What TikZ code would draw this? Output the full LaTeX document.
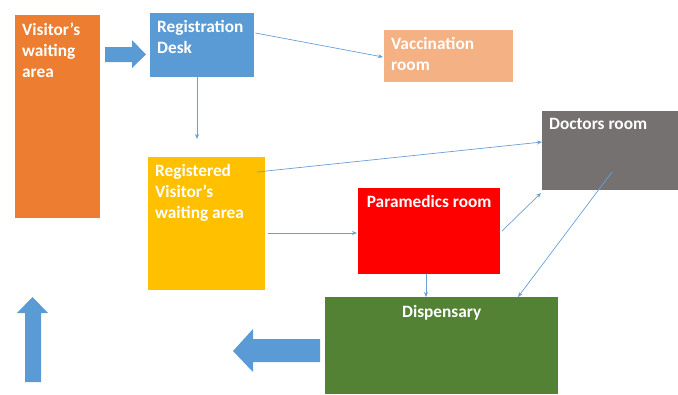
\documentclass[tikz,border=0pt]{standalone}
\usepackage{fontspec}
\setmainfont{Carlito}
\usetikzlibrary{calc,arrows.meta}
\definecolor{waitorange}{HTML}{ED7D31}
\definecolor{deskblue}{HTML}{5B9BD5}
\definecolor{vacpeach}{HTML}{F4B183}
\definecolor{docgrey}{HTML}{767171}
\definecolor{regyellow}{HTML}{FFC000}
\definecolor{medred}{HTML}{FF0000}
\definecolor{disgreen}{HTML}{548235}
\definecolor{linkblue}{HTML}{6A9FD6}

\begin{document}
\begin{tikzpicture}[x=1pt, y=-1pt,
    room/.style = {inner sep=0pt, anchor=north west},
    roomtext/.style = {text=white, font=\bfseries\fontsize{17.3}{21}\selectfont,
                       align=left, inner xsep=7pt, inner ysep=7.5pt},
    link/.style = {draw=linkblue, line width=0.7pt, -{Stealth[length=5pt,width=4pt]}},
    bigarrow/.style = {fill=deskblue}]
        \useasboundingbox (0,0) rectangle (678,394);
        % rooms
        \node[room, fill=waitorange, minimum width=85, minimum height=203,
              label={[roomtext, anchor=north west]north west:{Visitor’s\\waiting\\area}}]
              (visitor) at (15,15) {};
        \node[room, fill=deskblue, minimum width=104, minimum height=64,
              label={[roomtext, anchor=north west]north west:{Registration\\Desk}}]
              (desk) at (150,13) {};
        \node[room, fill=vacpeach, minimum width=129, minimum height=52,
              label={[roomtext, anchor=north west]north west:{Vaccination\\room}}]
              (vaccine) at (384,30) {};
        \node[room, fill=docgrey, minimum width=136, minimum height=79,
              label={[roomtext, anchor=north west]north west:{Doctors room}}]
              (doctors) at (542,111) {};
        \node[room, fill=regyellow, minimum width=117, minimum height=133,
              label={[roomtext, anchor=north west]north west:{Registered\\Visitor’s\\waiting area}}]
              (registered) at (148,157) {};
        \node[room, fill=medred, minimum width=142, minimum height=86,
              label={[roomtext, anchor=north]north:{Paramedics room}}]
              (paramedics) at (358,188) {};
        \node[room, fill=disgreen, minimum width=233, minimum height=97,
              label={[roomtext, anchor=north, yshift=-1pt]north:{Dispensary}}]
              (dispensary) at (325,297) {};
        % block arrows
        \path[bigarrow](105,47)--(132,47)--(132,40)--(146,54.5)--(132,68)--(132,62)--(105,62)--cycle;
        \path[bigarrow](25,382)--(25,313)--(17,313)--(32.5,297)--(48,313)--(41,313)--(41,382)--cycle;
        \path[bigarrow](320,339)--(253,339)--(253,329)--(233,351)--(253,372)--(253,362)--(320,362)--cycle;
        % end points
        \coordinate(deskR)at($(desk.north east)+(1,20)$);
        \coordinate(vaccineL)at($(vaccine.north west)+(-1,27)$);
        \coordinate(deskB)at(197,77);
        \coordinate(deskBend)at(197,139);
        \coordinate(regA)at(257,172);
        \coordinate(doctorsL)at($(doctors.north west)+(0,31)$);
        \coordinate(regB)at(268,233);
        \coordinate(paramedicsL)at($(paramedics.north west)+(-1,45)$);
        \coordinate(paramedicsR)at(502,231);
        \coordinate(doctorsB)at(541,193);
        \coordinate(doctorsIn)at(612,172);
        \coordinate(dispensaryA)at(518,297);
        \coordinate(paramedicsB)at(426,274);
        \coordinate(dispensaryB)at(426,297);
        % connectors
        \path[link](deskR)to(vaccineL);
        \path[link](deskB)to(deskBend);
        \path[link](regA)to(doctorsL);
        \path[link](regB)to(paramedicsL);
        \path[link](paramedicsR)to(doctorsB);
        \path[link](doctorsIn)to(dispensaryA);
        \path[link](paramedicsB)to(dispensaryB);
    \end{tikzpicture}
\end{document}
